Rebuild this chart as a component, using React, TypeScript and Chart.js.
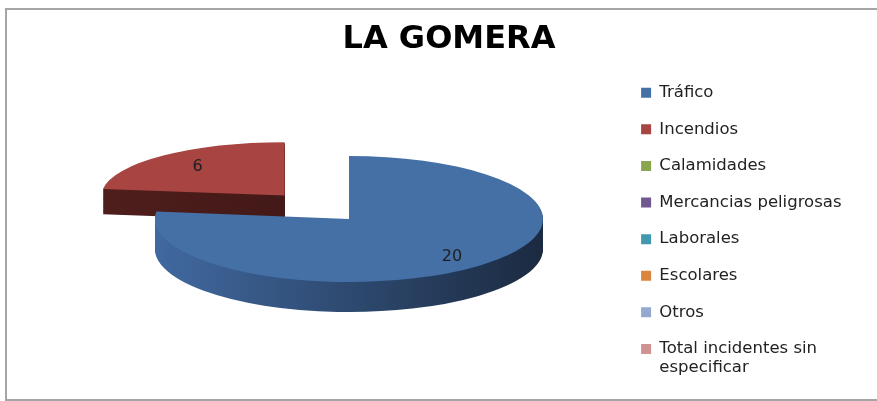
import React, { useEffect, useRef } from "react";
import { Chart, registerables } from "chart.js";

Chart.register(...registerables);

// ---- data ----
const categories = [
  "Tráfico",
  "Incendios",
  "Calamidades",
  "Mercancias peligrosas",
  "Laborales",
  "Escolares",
  "Otros",
  "Total incidentes sin especificar",
];
const values = [20, 6, 0, 0, 0, 0, 0, 0];
const legendWrap: Record<string, string[]> = {
  "Total incidentes sin especificar": ["Total incidentes sin", "especificar"],
};

// ---- styles ----
const topColors = ["#4470A6", "#A84442", "#89A54E", "#71588F", "#4198AF", "#DB843D", "#93A9CF", "#D19392"];
const sideLeft = ["#4169A0", "#4E1E1C", "#5F7536", "#4F3D64", "#2D6A7A", "#995C2A", "#667690", "#926766"];
const sideRight = ["#1B2A40", "#381412", "#3A4821", "#30253D", "#1B414B", "#5E3819", "#3F4959", "#5A3F3F"];
const labelRadius = [0.8, 0.72, 0.7, 0.7, 0.7, 0.7, 0.7, 0.7];

const FONT = "'DejaVu Sans', 'Noto Sans', sans-serif";
const RX = 194;
const RY = 63;
const CX = 349;
const CY = 219;
const DEPTH = 30;
const EXPLODE = 0.5; // fraction of radius the exploded slice moves
const PERSP_X = 0.08; // pseudo-perspective shrink for slices lying towards the back
const PERSP_Y = 0.21;

const explodeOffset = (chart: any) => {
  const a = chart.chartArea;
  if (!a) return 0;
  const S = Math.min(a.width, a.height);
  return (2 * EXPLODE * S) / (1 + 2 * EXPLODE);
};

const pie3d = {
  id: "pie3d",
  beforeDatasetsDraw(chart: any) {
    const meta = chart.getDatasetMeta(0);
    const arcs = meta.data as any[];
    if (!arcs.length) return false;
    const ctx: CanvasRenderingContext2D = chart.ctx;
    const ox = arcs[0].x;
    const oy = arcs[0].y;
    const R = arcs[0].outerRadius;
    if (!(R > 0)) return false;
    const sx = RX / R;
    const sy = RY / R;
    const mid = (a: any) => (a.startAngle + a.endAngle) / 2;
    const order = arcs
      .map((_a, i) => i)
      .filter((i) => values[i] > 0)
      .sort((a, b) => Math.sin(mid(arcs[a])) - Math.sin(mid(arcs[b])));

    const geom = (i: number) => {
      const arc = arcs[i];
      const m = mid(arc);
      const off = (arc.options.offset || 0) / 4;
      const t = off > 0 ? Math.max(0, -Math.sin(m)) : 0;
      return {
        m,
        off,
        px: 1 - PERSP_X * t,
        py: 1 - PERSP_Y * t,
        ax: ox + Math.cos(m) * off,
        ay: oy + Math.sin(m) * off,
      };
    };

    ctx.save();
    ctx.translate(CX, CY);
    ctx.scale(sx, sy);
    ctx.translate(-ox, -oy);
    for (const i of order) {
      const arc = arcs[i];
      const g = geom(i);
      ctx.save();
      ctx.translate(g.ax, g.ay);
      ctx.scale(g.px, g.py);
      ctx.translate(-g.ax, -g.ay);
      const base = arc.options;
      const grad = ctx.createLinearGradient(ox - R, 0, ox + R, 0);
      grad.addColorStop(0, sideLeft[i]);
      grad.addColorStop(1, sideRight[i]);
      arc.options = { ...base, backgroundColor: grad, borderWidth: 0 };
      for (let d = DEPTH; d >= 1; d -= 1) {
        ctx.save();
        ctx.translate(0, d / sy);
        arc.draw(ctx);
        ctx.restore();
      }
      arc.options = base;
      arc.draw(ctx);
      ctx.restore();
    }
    ctx.restore();

    // data labels
    ctx.save();
    ctx.font = `16px ${FONT}`;
    ctx.fillStyle = "#1e1e1e";
    ctx.textAlign = "center";
    ctx.textBaseline = "middle";
    for (const i of order) {
      const g = geom(i);
      const r = labelRadius[i] * R;
      const X = CX + (Math.cos(g.m) * (g.off + r * g.px)) * sx;
      const Y = CY + (Math.sin(g.m) * (g.off + r * g.py)) * sy;
      ctx.fillText(String(values[i]), X, Y);
    }
    ctx.restore();
    return false;
  },
};

export default function App() {
  const ref = useRef<HTMLCanvasElement | null>(null);

  useEffect(() => {
    if (!ref.current) return;
    const chart = new Chart(ref.current, {
      type: "pie",
      data: {
        labels: categories,
        datasets: [
          {
            data: values,
            backgroundColor: topColors,
            borderWidth: 0,
            offset: (c: any) => (c.dataIndex === 1 ? explodeOffset(c.chart) : 0),
          } as any,
        ],
      },
      options: {
        animation: false,
        responsive: false,
        events: [],
        layout: { padding: { left: 46.5, right: 25.5, top: 0, bottom: 0 } },
        plugins: {
          tooltip: { enabled: false },
          title: {
            display: true,
            text: "LA GOMERA",
            color: "#000000",
            font: { family: FONT, size: 32, weight: "bold" },
            padding: { top: 20, bottom: 5.1 },
          },
          legend: {
            display: true,
            position: "right",
            align: "start",
            title: {
              display: true,
              text: "",
              font: { family: FONT, size: 10, lineHeight: 1 },
              padding: { top: 54.4, bottom: 0 },
            },
            labels: {
              boxWidth: 10,
              boxHeight: 10,
              padding: 20.1,
              color: "#222222",
              font: { family: FONT, size: 16.5, lineHeight: 1.12 },
              generateLabels: (ch: any) =>
                ch.data.labels.map((l: string, i: number) => ({
                  text: legendWrap[l] ?? l,
                  fillStyle: topColors[i],
                  strokeStyle: topColors[i],
                  lineWidth: 0,
                  hidden: false,
                  index: i,
                  fontColor: "#222222",
                })),
            },
          },
        },
      },
      plugins: [pie3d],
    } as any);
    return () => chart.destroy();
  }, []);

  return (
    <div
      style={{
        position: "fixed",
        left: 0,
        top: 0,
        width: 877,
        height: 401,
        background: "#ffffff",
        overflow: "hidden",
      }}
    >
      <div
        style={{
          position: "absolute",
          left: 5,
          top: 8,
          width: 900,
          height: 389,
          border: "2px solid #a5a5a5",
        }}
      />
      <canvas ref={ref} width={877} height={401} style={{ position: "absolute", left: 0, top: 0 }} />
    </div>
  );
}
